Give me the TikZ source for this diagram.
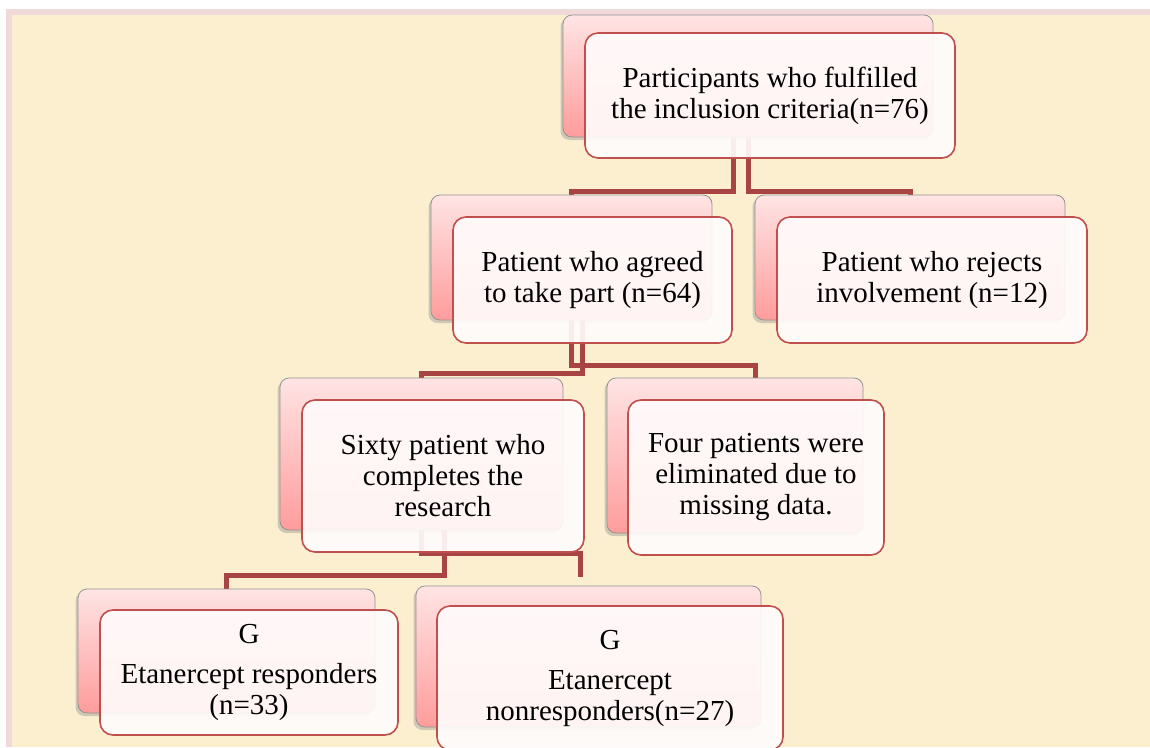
\documentclass[tikz,border=0pt]{standalone}
\usepackage{fontspec}
\setmainfont{Liberation Serif}
\usetikzlibrary{shadows,calc}
\definecolor{bgbeige}{HTML}{FBEFD0}
\definecolor{bgpink}{HTML}{EFD9D9}
\definecolor{backtop}{HTML}{FFE4E4}
\definecolor{backbot}{HTML}{FF9C9C}
\definecolor{frontfill}{HTML}{FFFBFB}
\definecolor{frontline}{HTML}{C0504D}
\definecolor{connline}{HTML}{A84442}
\pgfdeclarelayer{bgl}
\pgfdeclarelayer{conn}
\pgfsetlayers{bgl,conn,main}
\tikzset{
  backbox/.style={rectangle, rounded corners=9pt, draw=gray!85, line width=0.8pt,
    top color=backtop, bottom color=backbot, inner sep=0pt,
    drop shadow={shadow xshift=-2.5pt, shadow yshift=-3pt, opacity=0.35}},
  frontbox/.style={rectangle, rounded corners=13pt, draw=frontline, line width=1.6pt,
    fill=frontfill, fill opacity=0.92, text opacity=1, inner sep=0pt,
    align=center, font=\fontsize{29}{31}\selectfont, text=black},
  conn/.style={draw=connline, line width=5pt}
}
\begin{document}
\begin{tikzpicture}[x=1pt,y=-1pt]
\useasboundingbox (0,0) rectangle (1150,747);
\begin{pgfonlayer}{bgl}
\fill[white] (0,0) rectangle (1150,747);
\fill[bgpink] (6,9) rectangle (1150,747);
\fill[bgbeige] (12,15) rectangle (1150,747);
\end{pgfonlayer}
\begin{scope}
\clip (0,0) rectangle (1150,747);
% back boxes and front boxes
\node[backbox, minimum width=370pt, minimum height=122pt] (b1) at (748,76) {};
\node[frontbox, minimum width=370pt, minimum height=125pt] (f1) at (770,95.5)
  {Participants who fulfilled\\the inclusion criteria(n=76)};
\node[backbox, minimum width=281pt, minimum height=125pt] (b2) at (571.5,257.5) {};
\node[frontbox, minimum width=279pt, minimum height=126pt] (f2) at (592.5,280)
  {Patient who agreed\\to take part (n=64)};
\node[backbox, minimum width=310pt, minimum height=125pt] (b3) at (910,257.5) {};
\node[frontbox, minimum width=310pt, minimum height=126pt] (f3) at (932,280)
  {Patient who rejects\\involvement (n=12)};
\node[backbox, minimum width=283pt, minimum height=152pt] (b4) at (421.5,454) {};
\node[frontbox, minimum width=282pt, minimum height=152pt] (f4) at (443,476)
  {Sixty patient who\\completes the\\research};
\node[backbox, minimum width=256pt, minimum height=155pt] (b5) at (735,455.5) {};
\node[frontbox, minimum width=256pt, minimum height=155pt] (f5) at (756,477.5)
  {Four patients were\\eliminated due to\\missing data.};
\node[backbox, minimum width=297pt, minimum height=124pt] (b6) at (226.5,651) {};
\node[frontbox, minimum width=298pt, minimum height=125pt] (f6) at (249,672.5)
  {G\\[9pt]Etanercept responders\\(n=33)};
\node[backbox, minimum width=345pt, minimum height=141pt] (b7) at (588.5,656.5) {};
\node[frontbox, minimum width=346pt, minimum height=144pt] (f7) at (610,678)
  {G\\[9pt]Etanercept\\nonresponders(n=27)};
\coordinate (e7) at (580,577);
% connectors
\begin{pgfonlayer}{conn}
\draw[conn] ($(b1.south)+(-15,0)$) -- ++(0,54) -| (b2.north);
\draw[conn] (b1.south) -- ++(0,54) -| (b3.north);
\draw[conn] ($(b2.south)+(11,0)$) -- ++(0,53) -| (b4.north);
\draw[conn] (b2.south) -- ++(0,45) -| ($(b5.north)+(20,0)$);
\draw[conn] ($(b4.south)+(23,0)$) -- ++(0,45) -| (b6.north);
\draw[conn] (b4.south) -- ++(0,23) -| (e7);
\end{pgfonlayer}
\end{scope}
\end{tikzpicture}
\end{document}
